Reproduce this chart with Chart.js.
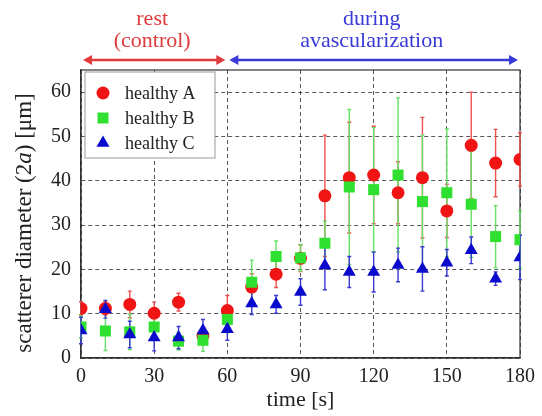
<!DOCTYPE html>
<html>
<head>
<meta charset="utf-8">
<script src="https://cdn.jsdelivr.net/npm/chart.js@4.4.1/dist/chart.umd.min.js"></script>
<style>
  html, body { margin: 0; padding: 0; background: #fff; }
  #wrap { width: 542px; height: 416px; position: relative; }
</style>
</head>
<body>
<div id="wrap"><canvas id="grafico"></canvas></div>
<script>
// time points [s]
const tempos = [0, 10, 20, 30, 40, 50, 60, 70, 80, 90, 100, 110, 120, 130, 140, 150, 160, 170, 180];

// scatterer diameter (2a) [um]
const healthyA = [11.2, 11.2, 12.1, 10.1, 12.6, 5.0, 10.7, 16.0, 18.9, 22.5, 36.6, 40.7, 41.3, 37.3, 40.7, 33.2, 48.0, 44.0, 44.8];
const erroA    = [1.5, 1.5, 3.0, 2.5, 2.0, 1.0, 3.4, 3.0, 3.0, 3.0, 13.7, 12.5, 11.0, 7.0, 13.6, 6.0, 12.0, 7.6, 6.0];

const healthyB = [7.0, 6.1, 5.9, 7.0, 3.8, 4.0, 8.7, 17.1, 22.9, 22.6, 25.9, 38.6, 38.0, 41.3, 35.3, 37.3, 34.7, 27.4, 26.7];
const erroB    = [2.5, 4.4, 4.0, 3.0, 2.0, 2.5, 3.0, 5.0, 3.5, 3.0, 5.0, 17.5, 14.0, 17.4, 15.0, 14.4, 12.0, 7.0, 6.5];

const healthyC = [6.2, 11.0, 5.3, 4.6, 4.6, 6.2, 6.5, 12.3, 12.1, 14.9, 20.9, 19.4, 19.4, 21.0, 20.1, 21.5, 24.3, 17.9, 22.7];
const erroC    = [3.0, 2.0, 3.0, 3.0, 2.5, 2.5, 2.5, 2.5, 2.0, 3.0, 5.5, 3.5, 4.5, 3.8, 5.0, 3.0, 3.0, 1.5, 5.0];

const nomes = ['healthy A', 'healthy B', 'healthy C'];

// phases shown above the plot
const faseTextos = [['rest', '(control)'], ['during', 'avascularization']];
const faseInicio = [0, 60];
const faseFim = [60, 180];

const xTicks = [0, 30, 60, 90, 120, 150, 180];
const yTicks = [0, 10, 20, 30, 40, 50, 60];

const fonte = "'Liberation Serif', 'Times New Roman', serif";
Chart.defaults.font.family = fonte;
Chart.defaults.color = '#222';

function pontos(vals, errs) {
  return tempos.map((t, i) => ({ x: t, y: vals[i], e: errs[i] }));
}

// error bars, drawn under the markers
const barrasErro = {
  id: 'barrasErro',
  beforeDatasetsDraw(chart) {
    const ctx = chart.ctx;
    const ys = chart.scales.y;
    const area = chart.chartArea;
    ctx.save();
    // frame
    ctx.strokeStyle = '#333';
    ctx.lineWidth = 1.2;
    ctx.strokeRect(area.left, area.top, area.right - area.left, area.bottom - area.top);
    chart.data.datasets.forEach((ds, di) => {
      const meta = chart.getDatasetMeta(di);
      ctx.strokeStyle = ds.corErro;
      ctx.lineWidth = 1.4;
      meta.data.forEach((pt, i) => {
        const d = ds.data[i];
        const yt = ys.getPixelForValue(d.y + d.e);
        const yb = ys.getPixelForValue(d.y - d.e);
        ctx.beginPath();
        ctx.moveTo(pt.x, yt);
        ctx.lineTo(pt.x, yb);
        ctx.moveTo(pt.x - 2, yt);
        ctx.lineTo(pt.x + 2, yt);
        ctx.moveTo(pt.x - 2, yb);
        ctx.lineTo(pt.x + 2, yb);
        ctx.stroke();
      });
    });
    ctx.restore();
  }
};

function desenharMarcador(ctx, estilo, cor, x, y) {
  ctx.fillStyle = cor;
  ctx.beginPath();
  if (estilo === 'circle') {
    ctx.arc(x, y, 6.5, 0, Math.PI * 2);
  } else if (estilo === 'rect') {
    ctx.rect(x - 5.5, y - 5.5, 11, 11);
  } else {
    ctx.moveTo(x, y - 7.5);
    ctx.lineTo(x + 6.5, y + 3.75);
    ctx.lineTo(x - 6.5, y + 3.75);
    ctx.closePath();
  }
  ctx.fill();
}

// legend box inside the plot, top-left
const legendaInterna = {
  id: 'legendaInterna',
  afterDatasetsDraw(chart) {
    const ctx = chart.ctx;
    const a = chart.chartArea;
    const bx = a.left + 4, by = a.top + 2;
    ctx.save();
    ctx.fillStyle = '#fff';
    ctx.fillRect(bx, by, 130, 86);
    ctx.strokeStyle = '#999';
    ctx.lineWidth = 1;
    ctx.strokeRect(bx, by, 130, 86);
    ctx.font = '18px ' + fonte;
    ctx.textBaseline = 'middle';
    chart.data.datasets.forEach((ds, i) => {
      const yy = by + 21 + i * 25;
      desenharMarcador(ctx, ds.pointStyle, ds.backgroundColor, bx + 18, yy);
      ctx.fillStyle = '#222';
      ctx.fillText(ds.label, bx + 40, yy + 1);
    });
    ctx.restore();
  }
};

// y axis title with italic "a", and the phase arrows above the plot
const textosExtra = {
  id: 'textosExtra',
  afterDraw(chart) {
    const ctx = chart.ctx;
    const xs = chart.scales.x;
    ctx.save();

    const partes = [['scatterer diameter (2', ''], ['a', 'italic '], [') [\u03bcm]', '']];
    let total = 0;
    partes.forEach(p => { ctx.font = p[1] + '23px ' + fonte; total += ctx.measureText(p[0]).width; });
    ctx.translate(25, 223);
    ctx.rotate(-Math.PI / 2);
    ctx.textBaseline = 'middle';
    ctx.fillStyle = '#222';
    let px = -total / 2;
    partes.forEach(p => {
      ctx.font = p[1] + '23px ' + fonte;
      ctx.fillText(p[0], px, 0);
      px += ctx.measureText(p[0]).width;
    });
    ctx.setTransform(1, 0, 0, 1, 0, 0);

    const cores = ['#e03a3a', '#3a3ad8'];
    const yArrow = 60;
    faseTextos.forEach((linhas, i) => {
      const x0 = xs.getPixelForValue(faseInicio[i]) + 2;
      const x1 = xs.getPixelForValue(faseFim[i]) - 2;
      ctx.strokeStyle = cores[i];
      ctx.fillStyle = cores[i];
      ctx.lineWidth = 2.5;
      ctx.beginPath();
      ctx.moveTo(x0 + 4, yArrow);
      ctx.lineTo(x1 - 4, yArrow);
      ctx.stroke();
      ctx.beginPath();
      ctx.moveTo(x0, yArrow); ctx.lineTo(x0 + 9, yArrow - 5); ctx.lineTo(x0 + 9, yArrow + 5); ctx.closePath();
      ctx.moveTo(x1, yArrow); ctx.lineTo(x1 - 9, yArrow - 5); ctx.lineTo(x1 - 9, yArrow + 5); ctx.closePath();
      ctx.fill();
      ctx.font = '22px ' + fonte;
      ctx.textAlign = 'center';
      ctx.textBaseline = 'middle';
      const cx = (x0 + x1) / 2 - 2;
      ctx.fillText(linhas[0], cx, 19);
      ctx.fillText(linhas[1], cx, 41);
    });
    ctx.restore();
  }
};

const ctx = document.getElementById('grafico').getContext('2d');
const chart = new Chart(ctx, {
  type: 'scatter',
  data: {
    datasets: [
      {
        label: nomes[0],
        data: pontos(healthyA, erroA),
        pointStyle: 'circle',
        pointRadius: 6.5,
        backgroundColor: '#f01414',
        borderColor: '#f01414',
        borderWidth: 0,
        corErro: '#ee5050',
        order: 3
      },
      {
        label: nomes[1],
        data: pontos(healthyB, erroB),
        pointStyle: 'rect',
        pointRadius: 7.8,
        backgroundColor: '#30e030',
        borderColor: '#30e030',
        borderWidth: 0,
        corErro: '#66e066',
        order: 2
      },
      {
        label: nomes[2],
        data: pontos(healthyC, erroC),
        pointStyle: 'triangle',
        pointRadius: 7.5,
        backgroundColor: '#0a0acc',
        borderColor: '#0a0acc',
        borderWidth: 0,
        corErro: '#3a3ad0',
        order: 1
      }
    ]
  },
  options: {
    animation: false,
    responsive: true,
    maintainAspectRatio: false,
    layout: { padding: { top: 70, right: 20, bottom: 0, left: 0 } },
    scales: {
      x: {
        type: 'linear',
        min: 0,
        max: 180,
        afterFit: (s) => { s.height = 58; },
        afterBuildTicks: (s) => { s.ticks = xTicks.map(v => ({ value: v })); },
        ticks: { padding: 7, font: { size: 20 }, color: '#222', maxRotation: 0 },
        grid: { color: 'rgba(0,0,0,0.65)', lineWidth: 1, drawTicks: false },
        border: { display: true, color: '#333', width: 1.2, dash: [4, 3] },
        title: { display: true, text: 'time [s]', font: { size: 22 }, color: '#222', padding: { top: 0, bottom: 3 } }
      },
      y: {
        min: 0,
        max: 65,
        afterFit: (s) => { s.width = 81; },
        afterBuildTicks: (s) => { s.ticks = yTicks.map(v => ({ value: v })); },
        ticks: { padding: 10, font: { size: 20 }, color: '#222' },
        grid: { color: 'rgba(0,0,0,0.65)', lineWidth: 1, drawTicks: false },
        border: { display: true, color: '#333', width: 1.2, dash: [4, 3] }
      }
    },
    plugins: {
      legend: { display: false },
      tooltip: { enabled: false }
    }
  },
  plugins: [barrasErro, legendaInterna, textosExtra]
});
</script>
</body>
</html>
